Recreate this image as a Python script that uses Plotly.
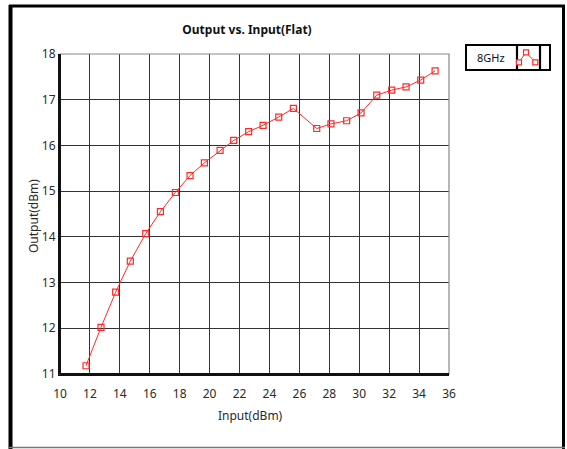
import plotly.graph_objects as go

# Data
input_dbm = [11.74, 12.74, 13.72, 14.70, 15.73, 16.71, 17.71, 18.69, 19.65, 20.70,
             21.61, 22.61, 23.57, 24.62, 25.60, 27.16, 28.11, 29.16, 30.12, 31.17,
             32.17, 33.13, 34.11, 35.07]
output_dbm = [11.18, 12.02, 12.79, 13.47, 14.07, 14.55, 14.97, 15.34, 15.62, 15.89,
              16.11, 16.30, 16.44, 16.62, 16.81, 16.37, 16.47, 16.54, 16.71, 17.10,
              17.21, 17.28, 17.43, 17.63]
series_name = "8GHz"
x_ticks = [10, 12, 14, 16, 18, 20, 22, 24, 26, 28, 30, 32, 34, 36]
y_ticks = [11, 12, 13, 14, 15, 16, 17, 18]

W, H = 567, 449
L, R, T, B = 60, 449, 54, 374  # plot area in pixels


def px(X):
    return (X - L) / (R - L)


def py(Y):
    return (B - Y) / (B - T)


FONT = "Noto Sans"
RED = "#ff2a2a"
TXT = "#2a2a2a"

fig = go.Figure()
fig.add_trace(go.Scatter(
    x=input_dbm, y=output_dbm, mode="lines+markers", name=series_name,
    line=dict(color=RED, width=1),
    marker=dict(symbol="square-open", size=6, color=RED, line=dict(width=1.2)),
    showlegend=False, hoverinfo="skip",
))

shapes = []
# outer frame
shapes.append(dict(type="line", xref="paper", yref="paper", x0=px(10.5), x1=px(10.5), y0=py(5), y1=py(449),
                   line=dict(color="black", width=4)))
shapes.append(dict(type="line", xref="paper", yref="paper", x0=px(9), x1=px(565), y0=py(6), y1=py(6),
                   line=dict(color="black", width=3)))
shapes.append(dict(type="line", xref="paper", yref="paper", x0=px(563.5), x1=px(563.5), y0=py(5), y1=py(449),
                   line=dict(color="black", width=3)))
shapes.append(dict(type="line", xref="paper", yref="paper", x0=px(9), x1=px(565), y0=py(447.5), y1=py(447.5),
                   line=dict(color="#777", width=1.5)))
# legend box
shapes.append(dict(type="rect", xref="paper", yref="paper", x0=px(466), x1=px(550), y0=py(70), y1=py(45),
                   line=dict(color="black", width=2), fillcolor="white"))
shapes.append(dict(type="rect", xref="paper", yref="paper", x0=px(517), x1=px(540), y0=py(70), y1=py(45),
                   line=dict(color="black", width=2.2)))
# legend icon
ix = [519, 526, 535.3]
iy = [62.3, 52.3, 62.3]
path = "M {} {} L {} {} L {} {}".format(px(ix[0]), py(iy[0]), px(ix[1]), py(iy[1]), px(ix[2]), py(iy[2]))
shapes.append(dict(type="path", xref="paper", yref="paper", path=path, line=dict(color=RED, width=1)))
for a, b in zip(ix, iy):
    shapes.append(dict(type="rect", xref="paper", yref="paper", x0=px(a - 2.5), x1=px(a + 2.5),
                       y0=py(b + 2.5), y1=py(b - 2.5), line=dict(color=RED, width=1.2), fillcolor="white"))
# plot area border: grey top/right, dark left/bottom
shapes.append(dict(type="rect", xref="paper", yref="paper", x0=0, x1=1, y0=0, y1=1,
                   line=dict(color="#888", width=1.2), layer="above"))
shapes.append(dict(type="line", xref="paper", yref="paper", x0=0, x1=0, y0=0, y1=1,
                   line=dict(color="#111", width=2), layer="above"))
shapes.append(dict(type="line", xref="paper", yref="paper", x0=0, x1=1, y0=0, y1=0,
                   line=dict(color="#111", width=2), layer="above"))

annotations = [
    dict(text=series_name, xref="paper", yref="paper", x=px(491), y=py(57.5),
         showarrow=False, xanchor="center", yanchor="middle",
         font=dict(family=FONT, size=11, color="#111")),
    dict(text="Input(dBm)", xref="paper", yref="paper", x=px(250), y=py(415),
         showarrow=False, xanchor="center", yanchor="middle",
         font=dict(family=FONT, size=12, color=TXT)),
    dict(text="Output(dBm)", xref="paper", yref="paper", x=px(33), y=py(216),
         showarrow=False, xanchor="center", yanchor="middle", textangle=-90,
         font=dict(family=FONT, size=12, color=TXT)),
]

fig.update_layout(
    width=W, height=H,
    margin=dict(l=L, r=W - R, t=T, b=H - B),
    paper_bgcolor="white", plot_bgcolor="white",
    font=dict(family=FONT, size=12, color=TXT),
    title=dict(text="<b>Output vs. Input(Flat)</b>", xref="container", x=247 / W, xanchor="center",
               yref="container", y=1 - 30 / H, yanchor="middle",
               font=dict(family=FONT, size=12, color="#111")),
    shapes=shapes,
    annotations=annotations,
    xaxis=dict(range=[10, 36], tickvals=x_ticks, showgrid=True, gridcolor="#333", gridwidth=1.2,
               showline=True, linecolor="#111", linewidth=2, mirror=False, zeroline=False,
               ticks="", ticklabelstandoff=8, tickfont=dict(size=12, color=TXT), fixedrange=True),
    yaxis=dict(range=[11, 18], tickvals=y_ticks, showgrid=True, gridcolor="#333", gridwidth=1.2,
               showline=True, linecolor="#111", linewidth=2, mirror=False, zeroline=False,
               ticks="", tickfont=dict(size=12, color=TXT), fixedrange=True),
)

fig.write_html("out.html", config={"displayModeBar": False})

# remove default page margin so the figure sits at the window origin
with open("out.html", "r", encoding="utf-8") as f:
    html = f.read()
html = html.replace("<head>", "<head><style>html,body{margin:0;padding:0;overflow:hidden;}</style>", 1)
with open("out.html", "w", encoding="utf-8") as f:
    f.write(html)
